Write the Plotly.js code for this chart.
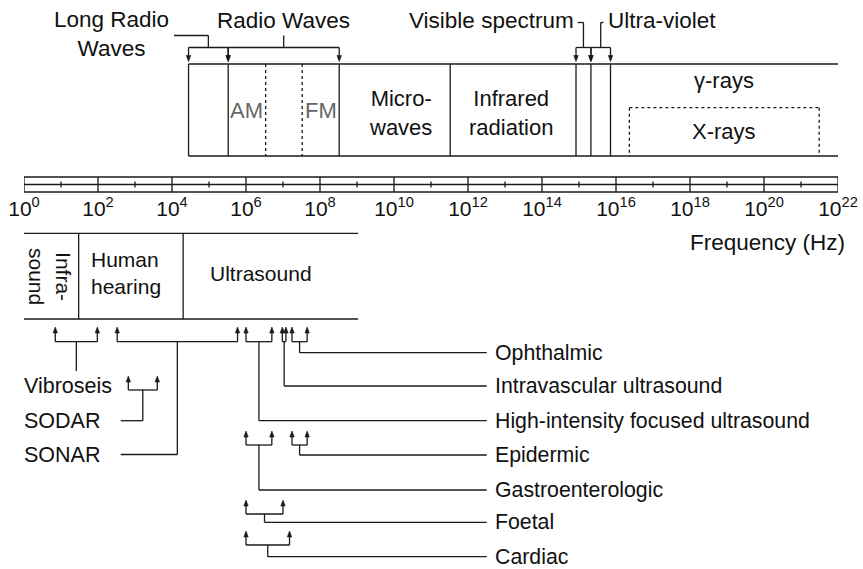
<!DOCTYPE html>
<html><head><meta charset="utf-8">
<script src="https://cdn.plot.ly/plotly-3.0.1.min.js"></script>
<style>html,body{margin:0;padding:0;background:#fff}#chart{width:863px;height:569px}</style>
</head><body><div id="chart"></div>
<script>
// ---------- DATA (frequencies in Hz) ----------
// Electromagnetic spectrum band edges
const emEdges = [2.8e4, 3.3e5, 3.3e8, 3.3e11, 8.3e14, 2.1e15, 7.1e15, 1.06e22];
const radioSubEdges = [3.4e6, 3.3e7];          // AM / FM dashed separators
const xrayRange = [2.3e16, 3.1e21];
// Acoustic bands: Infrasound | Human hearing | Ultrasound
const soundEdges = [1, 30, 2e4, 1.07e9];
// Application frequency ranges
const appNames = ['Vibroseis', 'SODAR', 'SONAR', 'High-intensity focused ultrasound',
  'Intravascular ultrasound', 'Ophthalmic', 'Epidermic', 'Gastroenterologic', 'Foetal', 'Cardiac'];
const appLow  = [7,  660,  330,   1e6, 9.6e6, 1.75e7, 1.75e7, 1e6, 1e6, 1e6];
const appHigh = [96, 4000, 5.9e5, 5e6, 1.2e7, 4.5e7,  4.5e7,  5e6, 1e7, 1.5e7];
// Axis ticks
const tickExponents = [0, 2, 4, 6, 8, 10, 12, 14, 16, 18, 20, 22];
const tickLabels = tickExponents.map(e => '10<sup>' + e + '</sup>');

// ---------- LAYOUT HELPERS ----------
const W = 863, H = 569, ML = 24, MR = 25;
const UPP = 22 / (W - ML - MR);          // axis units per pixel
const L = v => Math.log10(v);
const P = px => (px - ML) * UPP;        // horizontal pixel -> axis unit (for free text placement)
const INK = '#1a1a1a', LW = 1.3;
const FONT = 'Liberation Sans, Arial, Helvetica, sans-serif';
const shapes = [];
const annotations = [];
function seg(x0, y0, x1, y1, dash) {
  shapes.push({type: 'line', xref: 'x', yref: 'y', x0, y0, x1, y1,
    line: {color: INK, width: LW, dash: dash || 'solid'}});
}
function head(x, yTip, dir) { // dir=+1 points up, -1 points down
  const b = yTip + dir * 6, w = 2.2 * UPP;
  shapes.push({type: 'path', xref: 'x', yref: 'y',
    path: `M${x},${yTip} L${x - w},${b} L${x + w},${b} Z`,
    fillcolor: INK, line: {color: INK, width: 0.6}});
}
function txt(x, y, text, opt, size) {
  annotations.push(Object.assign({xref: 'x', yref: 'y', x, y, text, showarrow: false,
    font: {family: FONT, size: size || 21, color: '#111'}, xanchor: 'center', yanchor: 'middle'}, opt || {}));
}

// ---------- RULER (frequency axis) ----------
const rTop = 177, rMid = 184.5, rBot = 192;
seg(0, rTop, 22, rTop); seg(0, rMid, 22, rMid); seg(0, rBot, 22, rBot);
for (let e = 0; e <= 22; e++) {
  if (e % 2 === 0) seg(e, rTop, e, rBot);
  else seg(e, rMid - 3, e, rMid + 3);
}

// ---------- ELECTROMAGNETIC BOX ----------
const eTop = 64, eBot = 156;
const xs = emEdges.map(L);
seg(xs[0], eTop, xs[xs.length - 1], eTop);
seg(xs[0], eBot, xs[xs.length - 1], eBot);
for (let i = 0; i < xs.length - 1; i++) seg(xs[i], eTop, xs[i], eBot);
radioSubEdges.forEach(v => seg(L(v), eTop, L(v), eBot, '3px,3px'));
const xr0 = L(xrayRange[0]), xr1 = L(xrayRange[1]), xrTop = 107.7;
seg(xr0, xrTop, xr1, xrTop, '3px,3px');
seg(xr0, xrTop, xr0, eBot, '3px,3px');
seg(xr1, xrTop, xr1, eBot, '3px,3px');

// top brackets
const tipDown = 61.5, brY = 47.5;
function topBracket(a, b, stemTop, hookTo) {
  const xa = L(a), xb = L(b), xm = (xa + xb) / 2;
  seg(xa, brY, xb, brY);
  [xa, xb].forEach(x => { seg(x, brY, x, tipDown - 5); head(x, tipDown, -1); });
  seg(xm, brY, xm, stemTop);
  if (hookTo !== undefined) seg(xm, stemTop, hookTo, stemTop);
  return xm;
}
topBracket(emEdges[0], emEdges[1], 35.5, P(174));
topBracket(emEdges[1], emEdges[2], 35.5);
topBracket(emEdges[4], emEdges[5], 22.5, P(577.7));
topBracket(emEdges[5], emEdges[6], 22.5, P(603.5));

// EM texts
const TOP = 22.5, EM = 22;
txt(P(111), 33.5, 'Long Radio<br>Waves', {}, TOP);
txt((xs[1] + xs[2]) / 2, 20, 'Radio Waves', {}, TOP);
txt(P(575.5), 20, 'Visible spectrum', {xanchor: 'right'}, TOP);
txt(P(605.5), 20, 'Ultra-violet', {xanchor: 'left'}, TOP);
txt((xs[1] + L(radioSubEdges[0])) / 2, 110, 'AM', {font: {family: FONT, size: EM, color: '#666'}});
txt((L(radioSubEdges[1]) + xs[2]) / 2, 110, 'FM', {font: {family: FONT, size: EM, color: '#666'}});
txt(P(400), 112.5, 'Micro-<br>waves', {}, EM);
txt(P(511), 112.5, 'Infrared<br>radiation', {}, EM);
txt((xr0 + xr1) / 2, 80, 'γ-rays', {}, EM);
txt((xr0 + xr1) / 2, 131, 'X-rays', {}, EM);
txt(22, 242, 'Frequency (Hz)', {xanchor: 'right', xshift: 9}, TOP);

// ---------- ACOUSTIC BOX ----------
const sTop = 233.3, sBot = 319;
const ss = soundEdges.map(L);
seg(ss[0], sTop, ss[3], sTop);
seg(ss[0], sBot, ss[3], sBot);
seg(ss[1], sTop, ss[1], sBot);
seg(ss[2], sTop, ss[2], sBot);
txt(P(50), 276, 'Infra-<br>sound', {textangle: 90});
txt(P(89), 273, 'Human<br>hearing', {xanchor: 'left', align: 'left'});
txt((ss[2] + P(358)) / 2 - 0.27, 273, 'Ultrasound');

// ---------- APPLICATION BRACKETS ----------
// per application: arrow tip y, bracket y, label row y, side of the label
const rows = [
  {tip: 327, br: 341.7, lab: 386,   side: 'below'},
  {tip: 376, br: 390,   lab: 420.7, side: 'left'},
  {tip: 327, br: 341.7, lab: 454.5, side: 'left'},
  {tip: 327, br: 341.7, lab: 420.7, side: 'right'},
  {tip: 327, br: 341.7, lab: 386,   side: 'right'},
  {tip: 327, br: 341.7, lab: 352.7, side: 'right'},
  {tip: 431, br: 445,   lab: 455,   side: 'right'},
  {tip: 431, br: 445,   lab: 490,   side: 'right'},
  {tip: 500, br: 514,   lab: 522.3, side: 'right'},
  {tip: 531, br: 545,   lab: 556.7, side: 'right'}
];
const leftLineEnd = P(120.7), rightLineEnd = P(486.7), rightText = P(493);
appNames.forEach((name, i) => {
  const r = rows[i];
  const xa = L(appLow[i]), xb = L(appHigh[i]), xm = (xa + xb) / 2;
  seg(xa, r.br, xb, r.br);
  [xa, xb].forEach(x => { seg(x, r.br, x, r.tip + 5); head(x, r.tip, 1); });
  if (r.side === 'below') {
    seg(xm, r.br, xm, r.lab - 15);
    txt(0, r.lab, name, {xanchor: 'left', xshift: -2}, 21.5);
  } else if (r.side === 'left') {
    seg(xm, r.br, xm, r.lab);
    seg(xm, r.lab, leftLineEnd, r.lab);
    txt(0, r.lab, name, {xanchor: 'left', xshift: -2}, 21.5);
  } else {
    seg(xm, r.br, xm, r.lab);
    seg(xm, r.lab, rightLineEnd, r.lab);
    txt(rightText, r.lab, name, {xanchor: 'left'}, 21.3);
  }
});

const layout = {
  width: W, height: H,
  margin: {l: ML, r: MR, t: 0, b: 0, pad: 0},
  paper_bgcolor: '#fff', plot_bgcolor: '#fff',
  showlegend: false,
  xaxis: {range: [0, 22], showgrid: false, zeroline: false, showline: false, ticks: '',
    tickmode: 'array', tickvals: tickExponents, ticktext: tickLabels,
    tickfont: {family: FONT, size: 21, color: '#111'},
    anchor: 'free', position: 1 - rBot / H, ticklabelstandoff: 2, fixedrange: true},
  yaxis: {range: [H, 0], visible: false, fixedrange: true},
  shapes, annotations
};
Plotly.newPlot('chart', [{x: [], y: [], type: 'scatter', hoverinfo: 'skip'}], layout,
  {displayModeBar: false, staticPlot: true});
</script></body></html>
